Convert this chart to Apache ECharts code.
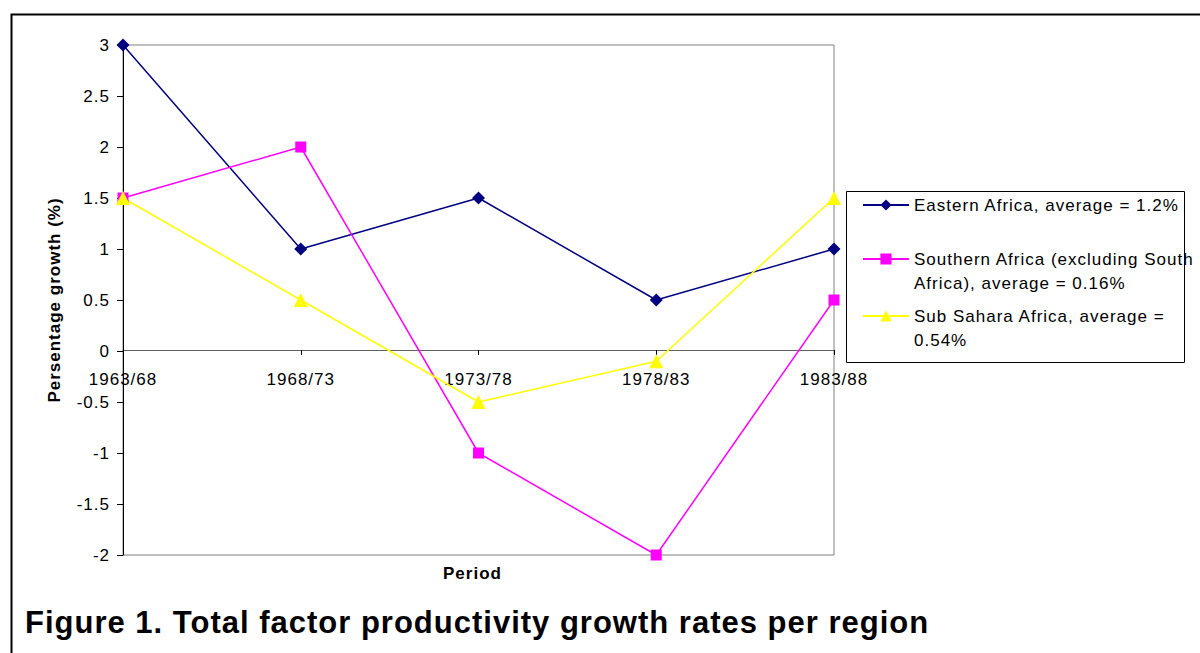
<!DOCTYPE html>
<html>
<head>
<meta charset="utf-8">
<script src="https://cdn.jsdelivr.net/npm/echarts@6/dist/echarts.min.js"></script>
<style>
  html, body { margin: 0; padding: 0; background: #fff; }
  #chart { width: 1200px; height: 653px; }
  /* the original text is set a little wider than plain Arial */
  #chart text { letter-spacing: 1px; font-family: "Liberation Sans", Arial, sans-serif; }
</style>
</head>
<body>
<div id="chart"></div>
<script>
// periods on the x axis
const periods = ['1963/68', '1968/73', '1973/78', '1978/83', '1983/88']

// growth rates (%) per region
const easternAfrica = [3, 1, 1.5, 0.5, 1]
const southernAfrica = [1.5, 2, -1, -2, 0.5]
const subSaharaAfrica = [1.5, 0.5, -0.5, -0.1, 1.5]

const seriesNames = [
  'Eastern Africa, average = 1.2%',
  'Southern Africa (excluding South Africa), average = 0.16%',
  'Sub Sahara Africa, average = 0.54%',
]

const FONT = '"Liberation Sans", Arial, sans-serif'

const chart = echarts.init(document.getElementById('chart'), null, { renderer: 'svg' })

// one legend per entry so the icon lines up with the first text line
function legendFor(name, top, label) {
  return {
    data: [name],
    left: 862,
    top: top,
    padding: 0,
    itemWidth: 46,
    itemHeight: 14,
    selectedMode: false,
    formatter: () => label,
    textStyle: { fontFamily: FONT, fontSize: 17, color: '#000', lineHeight: 24 },
  }
}

const option = {
  animation: false,
  backgroundColor: '#fff',
  title: [
    {
      text: 'Figure 1. Total factor productivity growth rates per region',
      left: 25,
      top: 607,
      padding: 0,
      textStyle: { fontFamily: FONT, fontSize: 31, fontWeight: 'bold', color: '#000' },
    },
    {
      text: 'Period',
      left: 443,
      top: 565,
      padding: 0,
      textStyle: { fontFamily: FONT, fontSize: 17, fontWeight: 'bold', color: '#000' },
    },
  ],
  legend: [
    legendFor(seriesNames[0], 193, 'Eastern Africa, average = 1.2%'),
    legendFor(seriesNames[1], 223, ' \nSouthern Africa (excluding South\nAfrica), average = 0.16%'),
    legendFor(seriesNames[2], 280, ' \nSub Sahara Africa, average =\n0.54%'),
  ],
  graphic: [
    {
      // outer frame
      type: 'rect',
      left: 9,
      top: 12,
      shape: { width: 1220, height: 700 },
      style: { fill: 'none', stroke: '#000', lineWidth: 2 },
      silent: true,
    },
    {
      // legend box
      type: 'rect',
      left: 844,
      top: 189,
      shape: { width: 338, height: 171 },
      style: { fill: 'none', stroke: '#000', lineWidth: 1 },
      silent: true,
    },
  ],
  grid: {
    left: 123,
    right: 366,
    top: 45,
    bottom: 98,
    show: true,
    borderColor: '#808080',
    borderWidth: 1,
    containLabel: false,
  },
  xAxis: {
    type: 'category',
    data: periods,
    boundaryGap: false,
    position: 'bottom',
    // the axis sits on y = 0, labels included
    offset: -205,
    axisLine: { onZero: false, lineStyle: { color: '#606060', width: 1 } },
    axisTick: { show: true, alignWithLabel: true, length: 5, lineStyle: { color: '#000' } },
    axisLabel: { fontFamily: FONT, fontSize: 17, color: '#000', margin: 21 },
    splitLine: { show: false },
  },
  yAxis: {
    type: 'value',
    min: -2,
    max: 3,
    interval: 0.5,
    name: 'Persentage growth (%)',
    nameLocation: 'middle',
    nameGap: 60,
    nameTextStyle: { fontFamily: FONT, fontSize: 17, fontWeight: 'bold', color: '#000' },
    axisLine: { show: true, lineStyle: { color: '#000', width: 1 } },
    axisTick: { show: true, length: 6, lineStyle: { color: '#000' } },
    axisLabel: { fontFamily: FONT, fontSize: 17, color: '#000', margin: 13 },
    splitLine: { show: false },
  },
  series: [
    {
      name: seriesNames[0],
      type: 'line',
      data: easternAfrica,
      symbol: 'diamond',
      symbolSize: 13,
      itemStyle: { color: '#000080' },
      lineStyle: { color: '#000080', width: 1.5 },
    },
    {
      name: seriesNames[1],
      type: 'line',
      data: southernAfrica,
      symbol: 'rect',
      symbolSize: 11,
      itemStyle: { color: '#ff00ff' },
      lineStyle: { color: '#ff00ff', width: 1.5 },
    },
    {
      name: seriesNames[2],
      type: 'line',
      data: subSaharaAfrica,
      symbol: 'triangle',
      symbolSize: 14,
      itemStyle: { color: '#ffff00' },
      lineStyle: { color: '#ffff00', width: 1.5 },
    },
  ],
}

chart.setOption(option)
</script>
</body>
</html>
